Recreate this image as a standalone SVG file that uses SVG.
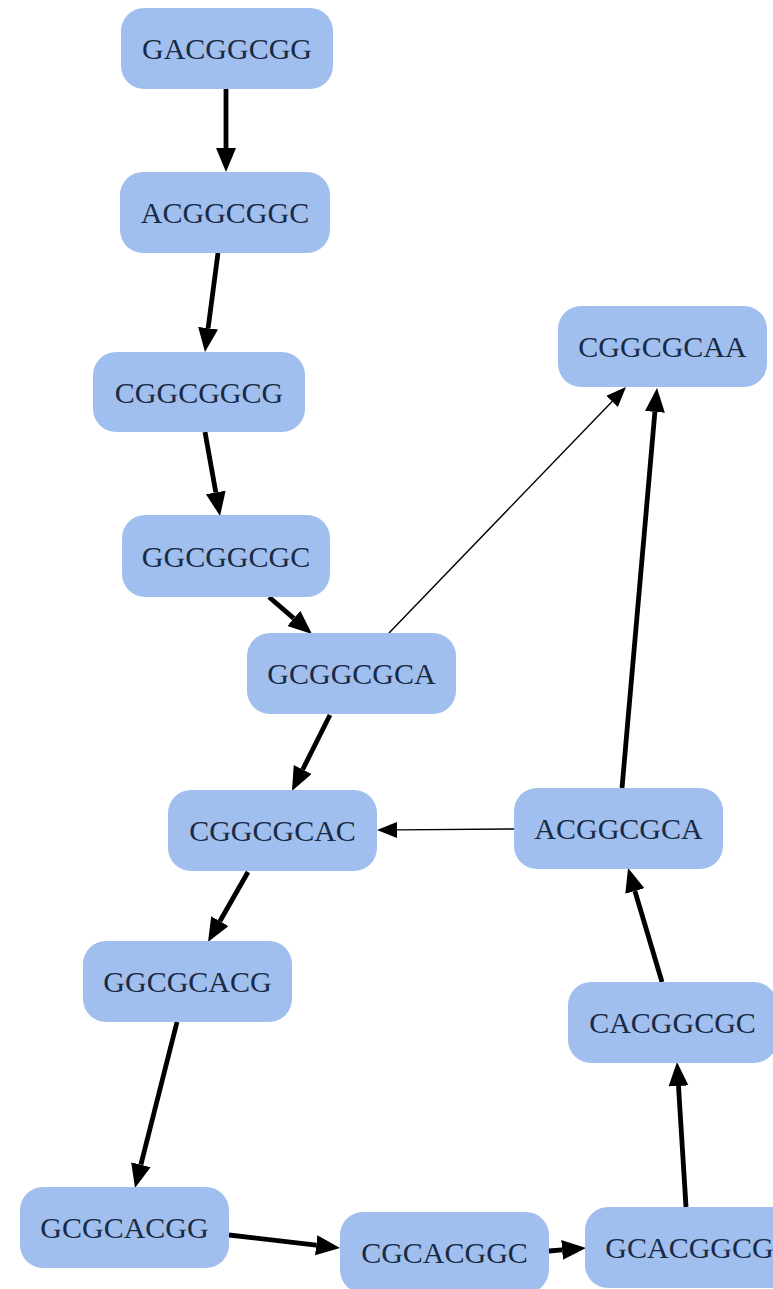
<svg xmlns="http://www.w3.org/2000/svg" width="773" height="1289" viewBox="0 0 773 1289">
<style>
.n rect{fill:#a0bfee;}
.n text{font-family:"Liberation Serif","Times New Roman",serif;font-size:30px;fill:#1b2a44;text-anchor:middle;}
.thick{stroke:#000;stroke-width:4.8;fill:none;marker-end:url(#ah);}
.thin{stroke:#000;stroke-width:1.4;fill:none;marker-end:url(#at);}
</style>
<defs>
<marker id="ah" markerUnits="userSpaceOnUse" markerWidth="26" markerHeight="22" refX="0" refY="10" orient="auto"><path d="M0,0 L24,10 L0,20 z" fill="#000"/></marker>
<marker id="at" markerUnits="userSpaceOnUse" markerWidth="22" markerHeight="18" refX="0" refY="8" orient="auto"><path d="M0,0 L20,8 L0,16 z" fill="#000"/></marker>
</defs>
<rect width="773" height="1289" fill="#fff"/>
<g id="edges">
<line class="thick" x1="226" y1="89" x2="226" y2="148"/>
<line class="thick" x1="218" y1="253" x2="208.1" y2="328.2"/>
<line class="thick" x1="205" y1="432" x2="215.8" y2="492.4"/>
<line class="thick" x1="269" y1="597" x2="293.8" y2="618.4"/>
<line class="thick" x1="330" y1="715" x2="302.7" y2="769.5"/>
<line class="thin" x1="389" y1="633" x2="612.1" y2="401.4"/>
<line class="thick" x1="248" y1="872" x2="219.9" y2="921.2"/>
<line class="thin" x1="514" y1="829" x2="397" y2="829.9"/>
<line class="thick" x1="622" y1="788" x2="654.9" y2="411.9"/>
<line class="thick" x1="177" y1="1022" x2="140.9" y2="1164.7"/>
<line class="thick" x1="229" y1="1235" x2="316.2" y2="1245.2"/>
<line class="thick" x1="549" y1="1251" x2="562.1" y2="1249.9"/>
<line class="thick" x1="686" y1="1207" x2="678.5" y2="1086"/>
<line class="thick" x1="662" y1="982" x2="634.9" y2="891"/>
</g>
<g id="n1" class="n"><rect x="121" y="8" width="212" height="81" rx="23"/><text x="227" y="59">GACGGCGG</text></g>
<g id="n2" class="n"><rect x="120" y="172" width="210" height="81" rx="23"/><text x="225" y="223">ACGGCGGC</text></g>
<g id="n3" class="n"><rect x="93" y="352" width="212" height="80" rx="23"/><text x="199" y="402.5">CGGCGGCG</text></g>
<g id="n4" class="n"><rect x="122" y="515" width="208" height="82" rx="23"/><text x="226" y="566.5">GGCGGCGC</text></g>
<g id="n5" class="n"><rect x="247" y="633" width="209" height="81" rx="23"/><text x="351.5" y="684">GCGGCGCA</text></g>
<g id="n6" class="n"><rect x="558" y="306" width="209" height="81" rx="23"/><text x="662.5" y="357">CGGCGCAA</text></g>
<g id="n7" class="n"><rect x="168" y="790" width="209" height="81" rx="23"/><text x="272.5" y="841">CGGCGCAC</text></g>
<g id="n8" class="n"><rect x="514" y="788" width="209" height="81" rx="23"/><text x="618.5" y="839">ACGGCGCA</text></g>
<g id="n9" class="n"><rect x="83" y="941" width="209" height="81" rx="23"/><text x="187.5" y="992">GGCGCACG</text></g>
<g id="n10" class="n"><rect x="568" y="982" width="209" height="81" rx="23"/><text x="672.5" y="1033">CACGGCGC</text></g>
<g id="n11" class="n"><rect x="20" y="1187" width="209" height="81" rx="23"/><text x="124.5" y="1238">GCGCACGG</text></g>
<g id="n12" class="n"><rect x="340" y="1212" width="209" height="81" rx="23"/><text x="444.5" y="1263">CGCACGGC</text></g>
<g id="n13" class="n"><rect x="585" y="1207" width="209" height="81" rx="23"/><text x="689.5" y="1258">GCACGGCG</text></g>
</svg>
